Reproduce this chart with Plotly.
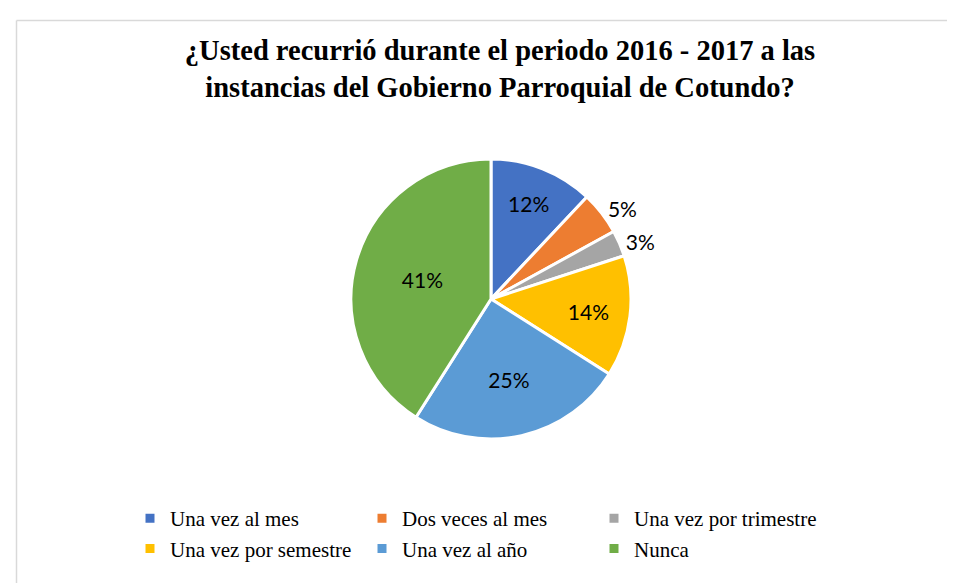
import plotly.graph_objects as go

# datos de la encuesta
categorias = ["Una vez al mes", "Dos veces al mes", "Una vez por trimestre",
              "Una vez por semestre", "Una vez al año", "Nunca"]
porcentajes = [12, 5, 3, 14, 25, 41]
colores = ["#4472C4", "#ED7D31", "#A5A5A5", "#FFC000", "#5B9BD5", "#70AD47"]
posicion_texto = ["inside", "outside", "outside", "inside", "inside", "inside"]

W, H = 955, 583
PW = 800  # ancho util (margen derecho para que la leyenda quede en 3 columnas)

fig = go.Figure()
fig.add_trace(go.Pie(
    labels=categorias,
    values=porcentajes,
    sort=False,
    direction="clockwise",
    rotation=0,
    marker=dict(colors=colores, line=dict(color="white", width=3)),
    texttemplate="%{value}%",
    textposition=posicion_texto,
    insidetextorientation="horizontal",
    textfont=dict(family="Lato", size=21, color="#000000"),
    domain=dict(x=[343 / PW, 623 / PW], y=[1 - 431 / H, 1 - 151 / H]),
    hoverinfo="label+percent",
))

# marco gris del grafico
fig.add_shape(type="line", xref="paper", yref="paper",
              x0=8.5 / PW, y0=0, x1=8.5 / PW, y1=1 - 12.5 / H,
              line=dict(color="#D9D9D9", width=1.5))
fig.add_shape(type="line", xref="paper", yref="paper",
              x0=8.5 / PW, y0=1 - 12.5 / H, x1=W / PW, y1=1 - 12.5 / H,
              line=dict(color="#D9D9D9", width=1.5))

fig.update_layout(
    width=W, height=H,
    margin=dict(l=0, r=W - PW, t=0, b=0, autoexpand=False),
    paper_bgcolor="white",
    title=dict(
        text="<b>¿Usted recurrió durante el periodo 2016 - 2017 a las<br>instancias del Gobierno Parroquial de Cotundo?</b>",
        font=dict(family="Liberation Serif", size=28.5, color="#000000"),
        x=492 / W, xanchor="center",
        y=1 - 52 / H, yanchor="top",
    ),
    legend=dict(
        orientation="h",
        x=122 / PW, xanchor="left",
        y=1 - 490 / H, yanchor="top",
        entrywidthmode="fraction",
        entrywidth=232 / PW,
        font=dict(family="Liberation Serif", size=21, color="#000000"),
        itemwidth=30,
        tracegroupgap=0,
    ),
)

fig.write_html("out.html")
